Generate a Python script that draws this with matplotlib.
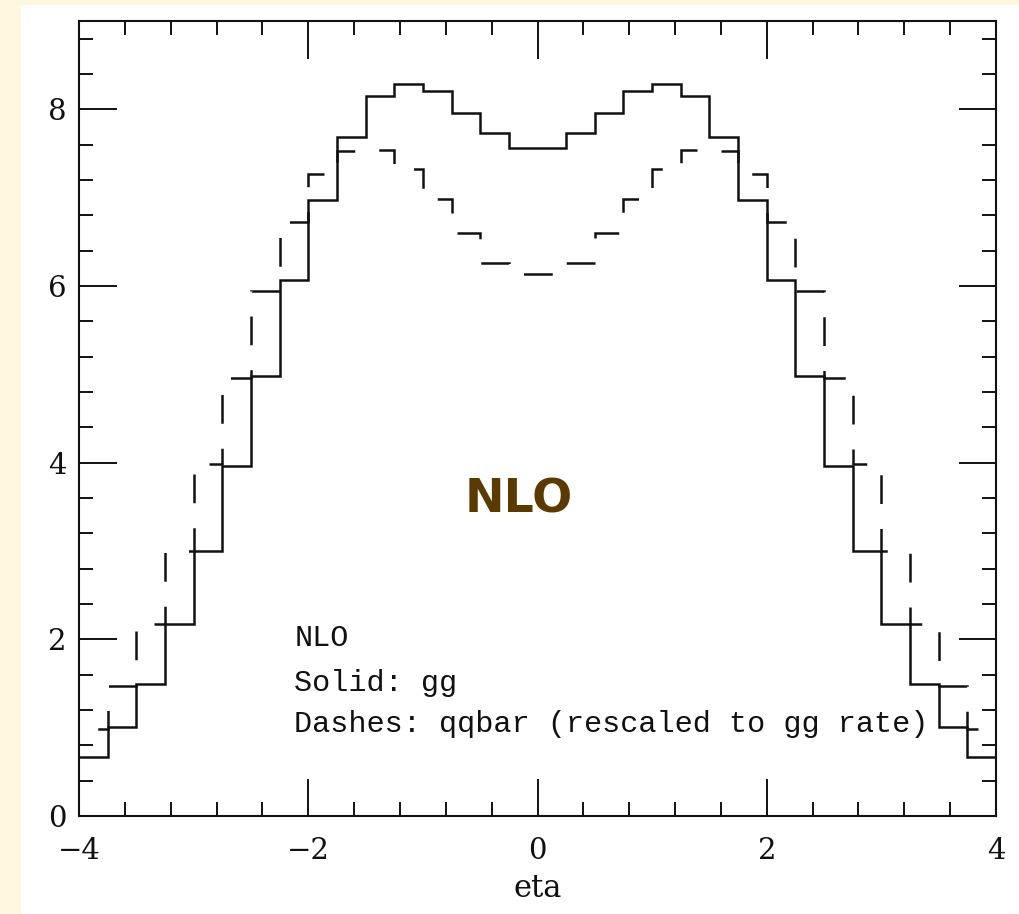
"""
eta distribution, NLO: gg (solid) vs qqbar rescaled to the gg rate (dashes).
Values read off the original topdrawer-style plot.
"""

import matplotlib

matplotlib.use("Agg")
import matplotlib.pyplot as plt
import numpy as np
from matplotlib.patches import Rectangle
from matplotlib.ticker import MultipleLocator

# ── data: 32 bins of 0.25 in eta ─────────────────────────────────────
ETA_EDGES = np.linspace(-4.0, 4.0, 33)

GG = [0.67, 1.01, 1.49, 2.17, 3.00, 3.96, 4.98, 6.07,
      6.97, 7.69, 8.15, 8.29, 8.21, 7.96, 7.73, 7.56,
      7.56, 7.73, 7.96, 8.21, 8.29, 8.15, 7.69, 6.97,
      6.07, 4.98, 3.96, 3.00, 2.17, 1.49, 1.01, 0.67]

QQBAR = [0.98, 1.47, 2.17, 3.00, 3.98, 4.96, 5.94, 6.73,
         7.27, 7.53, 7.54, 7.32, 6.98, 6.60, 6.26, 6.14,
         6.14, 6.26, 6.60, 6.98, 7.32, 7.54, 7.53, 7.27,
         6.73, 5.94, 4.96, 3.98, 3.00, 2.17, 1.47, 0.98]

NOTES = ["NLO", "Solid: gg", "Dashes: qqbar (rescaled to gg rate)"]

# ── look ─────────────────────────────────────────────────────────────
PAGE = "#fdf8de"
INK = "#111111"
BROWN = "#5b3a02"
W, H = 1020, 914

fig = plt.figure(figsize=(W / 100, H / 100), dpi=100, facecolor=PAGE)
fig.add_artist(Rectangle((21 / W, 0), 1, 1 - 5 / H, transform=fig.transFigure,
                         facecolor="white", edgecolor="none", zorder=-5))
ax = fig.add_axes([79 / W, 1 - 816 / H, (996 - 79) / W, (816 - 21) / H])

ax.stairs(GG, ETA_EDGES, baseline=None, color=INK, lw=1.8)
ax.stairs(QQBAR, ETA_EDGES, baseline=None, color=INK, lw=1.8,
          linestyle=(14, (11.5, 10)))

ax.set_xlim(-4, 4)
ax.set_ylim(0, 9)
ax.xaxis.set_major_locator(MultipleLocator(2))
ax.xaxis.set_minor_locator(MultipleLocator(0.4))
ax.yaxis.set_major_locator(MultipleLocator(2))
ax.yaxis.set_minor_locator(MultipleLocator(0.4))
ax.tick_params(which="both", direction="in", top=True, right=True,
               color=INK, width=1.4)
ax.tick_params(which="major", length=27)
ax.tick_params(which="minor", length=10)
ax.tick_params(axis="x", which="major", pad=15)
ax.tick_params(axis="y", which="major", pad=9)
for lab in ax.get_xticklabels() + ax.get_yticklabels():
    lab.set_family("DejaVu Serif")
    lab.set_fontsize(21)
    lab.set_color(INK)
for s in ax.spines.values():
    s.set_linewidth(1.5)
    s.set_color(INK)

ax.set_xlabel("eta", family="DejaVu Serif", fontsize=22, color=INK, labelpad=6)

for txt, yb in zip(NOTES, [1.93, 1.42, 0.95]):
    ax.text(-2.12, yb, txt, family="Liberation Mono", fontsize=21.8,
            color=INK, va="baseline", ha="left")

ax.text(-0.16, 3.58, "NLO", family="DejaVu Sans", fontweight="bold",
        fontsize=34, color=BROWN, ha="center", va="center")

fig.savefig("out.png", dpi=100, facecolor=PAGE)
